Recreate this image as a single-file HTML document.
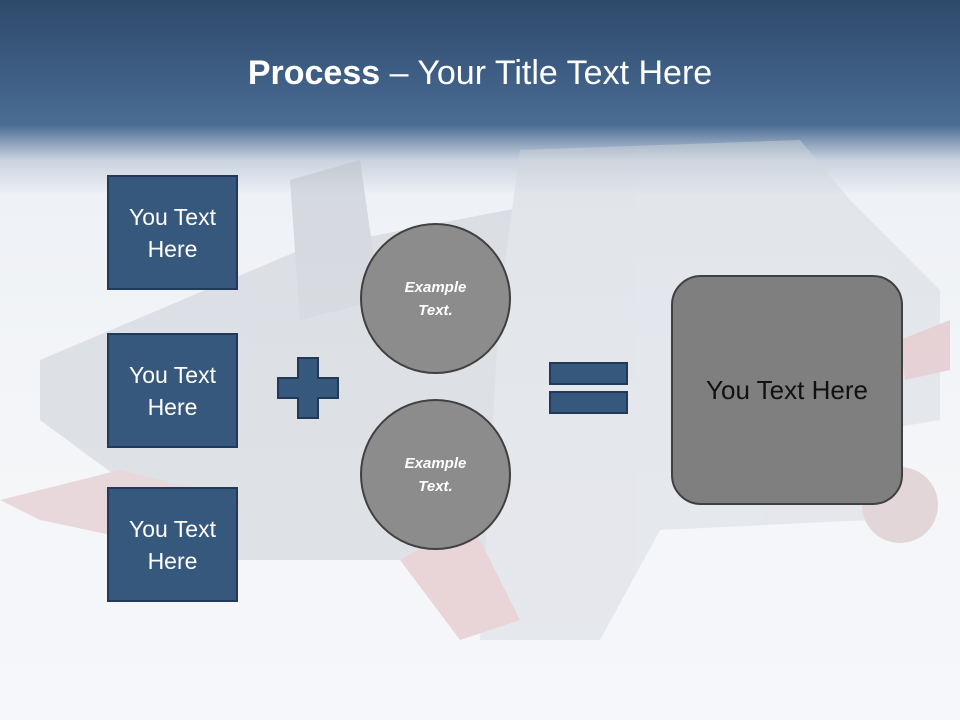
<!DOCTYPE html>
<html><head><style>
body{margin:0;width:960px;height:720px;overflow:hidden;position:relative;font-family:"Liberation Sans",sans-serif;background:#f4f6f9}
.bg{position:absolute;left:0;top:0;width:960px;height:720px;background:linear-gradient(180deg,#2e4a6b 0px,#3f5f85 80px,#4b6d94 125px,#c9d3df 160px,#eef1f5 195px,#f3f5f8 400px,#f6f7fa 720px)}
.t{position:absolute;top:54px;width:960px;text-align:center;color:#fff;font-size:34px}
.box{position:absolute;left:107px;width:127px;height:111px;background:#36587d;border:2px solid #22395a;color:#fff;font-size:23px;line-height:32px;display:flex;align-items:center;justify-content:center;text-align:center}
.c{position:absolute;width:147px;height:147px;border-radius:50%;background:#8c8c8c;border:2px solid #404040;color:#fff;font-style:italic;font-weight:bold;font-size:15px;line-height:23px;display:flex;align-items:center;justify-content:center;text-align:center}
.s{position:absolute;background:#36587d;border:2px solid #22395a}
</style></head><body>
<div class="bg"></div>
<svg style="position:absolute;left:0;top:0" width="960" height="720">
<g opacity="0.45">
<polygon points="40,360 300,250 560,200 600,260 560,560 230,560 40,420" fill="#c4c9d0"/>
<polygon points="520,150 800,140 850,200 940,290 940,420 880,430 870,520 660,530 600,640 480,640 500,300" fill="#d3d7dd"/>
<polygon points="0,500 120,470 240,500 230,560 40,520" fill="#dcb4b8"/>
<polygon points="400,560 470,520 520,620 460,640" fill="#dcaeb2"/>
<polygon points="900,340 950,320 950,370 905,380" fill="#d9a9ad"/>
<circle cx="900" cy="505" r="38" fill="#cfb0b3"/>
<polygon points="290,180 360,160 380,300 300,320" fill="#b9bfc7"/>
</g>
<polygon points="298,358 318,358 318,378 338,378 338,398 318,398 318,418 298,418 298,398 278,398 278,378 298,378" fill="#36587d" stroke="#22395a" stroke-width="2"/>
</svg>
<div class="t"><b>Process</b> – Your Title Text Here</div>
<div class="box" style="top:175px">You Text<br>Here</div>
<div class="box" style="top:333px">You Text<br>Here</div>
<div class="box" style="top:487px">You Text<br>Here</div>
<div class="c" style="left:360px;top:223px">Example<br>Text.</div>
<div class="c" style="left:360px;top:399px">Example<br>Text.</div>
<div class="s" style="left:549px;top:362px;width:75px;height:19px"></div>
<div class="s" style="left:549px;top:391px;width:75px;height:19px"></div>
<div style="position:absolute;left:671px;top:275px;width:228px;height:226px;border-radius:30px;background:#7f7f7f;border:2px solid #404040;display:flex;align-items:center;justify-content:center;font-size:26px;color:#111">You Text Here</div>
</body></html>
